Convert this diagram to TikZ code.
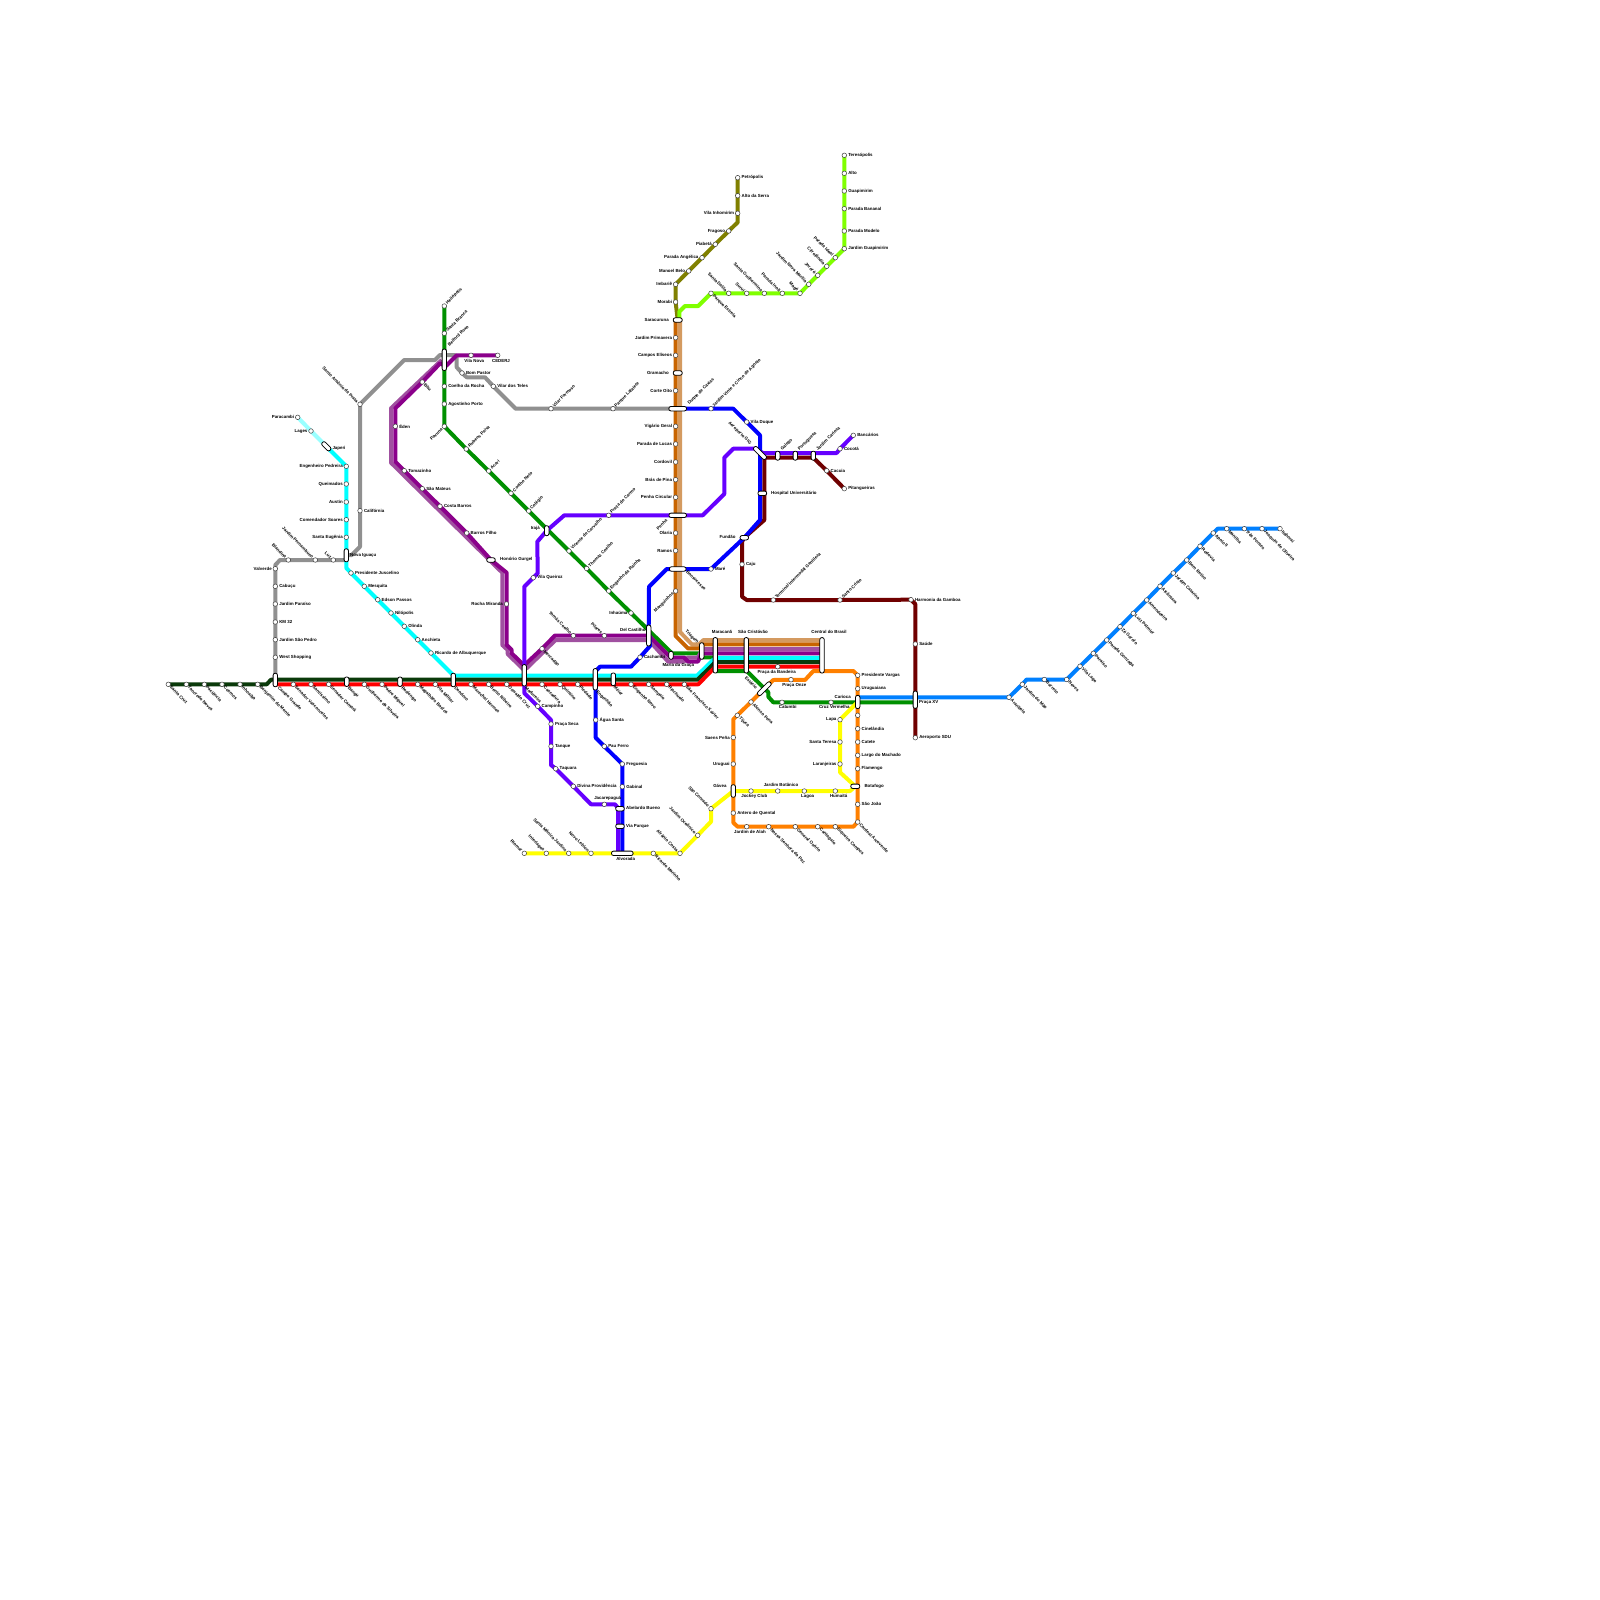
\documentclass[tikz,border=0pt]{standalone}
\usepackage{fontspec}
\setmainfont{Liberation Sans}
\definecolor{cPale}{HTML}{99FFFF}
\definecolor{cCyan}{HTML}{00FFFF}
\definecolor{cGray}{HTML}{909090}
\definecolor{cGreen}{HTML}{009000}
\definecolor{cDark}{HTML}{0A3A0A}
\definecolor{cRed}{HTML}{FF0000}
\definecolor{cBlue}{HTML}{0000FF}
\definecolor{cViolet}{HTML}{6600FF}
\definecolor{cMaroon}{HTML}{700000}
\definecolor{cOrange}{HTML}{FF8000}
\definecolor{cYellow}{HTML}{FFFF00}
\definecolor{cLime}{HTML}{80FF00}
\definecolor{cOlive}{HTML}{808000}
\definecolor{cSky}{HTML}{0080FF}
\definecolor{cPurple}{HTML}{8B008B}
\definecolor{cLilac}{HTML}{A050A0}
\definecolor{cBrown}{HTML}{C86400}
\definecolor{cTan}{HTML}{D49A60}
\tikzset{
  ln/.style={line width=4pt,line join=round},
  stn/.style={circle,draw=black!75,fill=white,line width=.5pt,minimum size=4.6pt,inner sep=0pt},
  capsule/.style={rectangle,rounded corners=2pt,draw=black,fill=white,line width=.8pt,minimum height=4.4pt,inner sep=0pt},
  lab/.style={font=\fontsize{4.4}{5}\selectfont\bfseries,inner sep=0pt,text=black},
  kR/.style={anchor=west,xshift=3.8pt},
  kL/.style={anchor=east,xshift=-3.4pt},
  kA/.style={anchor=south,yshift=3.4pt},
  kB/.style={anchor=north,yshift=-3.4pt},
  kUR/.style={rotate=45,anchor=west,xshift=3.2pt},
  kDR/.style={rotate=-45,anchor=west,xshift=3.2pt},
  kUL/.style={rotate=-45,anchor=east,xshift=-3.2pt},
  kDL/.style={rotate=45,anchor=east,xshift=-3.2pt},
  cR/.style={anchor=west},
  cL/.style={anchor=east},
  cC/.style={anchor=center},
  cUR/.style={rotate=45,anchor=west},
  cDR/.style={rotate=-45,anchor=west},
  cUL/.style={rotate=-45,anchor=east},
  cDL/.style={rotate=45,anchor=east},
}
\newcommand{\CoordS}[5]{\coordinate (#1) at (#2,#3);}
\newcommand{\DrawS}[5]{\node[stn] (n#1) at (#1) {}; \node[lab,#4] (t#1) at (#1) {#5};}
\newcommand{\CoordC}[9]{\coordinate (#1) at (#2,#3);}
\newcommand{\DrawC}[9]{\node[capsule,minimum width=#4pt,rotate=#5] (n#1) at (#1) {}; \node[lab,#6] (t#1) at (#7,#8) {#9};}
\newcommand{\Stations}{%
% pale / cyan
\StnX{paracambi}{297.7}{417.3}{kL}{Paracambi}
\StnX{lages}{311}{431}{kL}{Lages}
\StnX{engped}{346.3}{466.3}{kL}{Engenheiro Pedreira}
\StnX{queimados}{346.3}{484}{kL}{Queimados}
\StnX{austin}{346.3}{502}{kL}{Austin}
\StnX{comendador}{346.3}{519.7}{kL}{Comendador Soares}
\StnX{eugenia}{346.3}{537.3}{kL}{Santa Eugênia}
\StnX{juscelino}{351}{573}{kR}{Presidente Juscelino}
\StnX{mesquita}{364.3}{586.3}{kR}{Mesquita}
\StnX{edson}{377.7}{599.7}{kR}{Edson Passos}
\StnX{nilopolis}{391}{613}{kR}{Nilópolis}
\StnX{olinda}{404.3}{626.3}{kR}{Olinda}
\StnX{anchieta}{417.7}{639.7}{kR}{Anchieta}
\StnX{ricardo}{431}{653}{kR}{Ricardo de Albuquerque}
% gray
\StnX{santoantonio}{360}{404.3}{kUL}{Santo Antônio da Prata}
\StnX{california}{360}{510.7}{kR}{Califórnia}
\StnX{luz}{333.3}{560}{kUL}{Luz}
\StnX{jardpern}{315.3}{560}{kUL}{Jardim Pernambuco}
\StnX{blandina}{288.3}{560}{kUL}{Blandina}
\StnX{valverde}{275.3}{568.7}{kL}{Valverde}
\StnX{cabucu}{275.3}{586.3}{kR}{Cabuçu}
\StnX{paraiso}{275.3}{604}{kR}{Jardim Paraíso}
\StnX{km}{275.3}{622}{kR}{KM 32}
\StnX{saopedro}{275.3}{639.7}{kR}{Jardim São Pedro}
\StnX{west}{275.3}{657.3}{kR}{West Shopping}
\StnX{bompastor}{462}{373}{kR}{Bom Pastor}
\StnX{vilarteles}{493.3}{386.3}{kR}{Vilar dos Teles}
\StnX{vilarformoso}{551}{408.7}{kUR}{Vilar Formoso}
\StnX{lafaiete}{613}{408.7}{kUR}{Parque Lafaiete}
% dark green
\StnX{santacruz}{168.3}{684.3}{kDR}{Santa Cruz}
\StnX{tancredo}{186.3}{684.3}{kDR}{Tancredo Neves}
\StnX{paciencia}{204.3}{684.3}{kDR}{Paciência}
\StnX{cosmos}{222}{684.3}{kDR}{Cosmos}
\StnX{inhoaiba}{240}{684.3}{kDR}{Inhoaíba}
\StnX{benjamim}{257.7}{684.3}{kDR}{Benjamim do Monte}
% red
\StnX{senvasc}{293.3}{684.3}{kDR}{Senador Vasconcelos}
\StnX{santissimo}{311}{684.3}{kDR}{Santíssimo}
\StnX{camara}{328.7}{684.3}{kDR}{Senador Camará}
\StnX{guilherme}{364.3}{684.3}{kDR}{Guilherme da Silveira}
\StnX{padre}{382}{684.3}{kDR}{Padre Miguel}
\StnX{magalhaes}{417.7}{684.3}{kDR}{Magalhães Bastos}
\StnX{vmilitar}{435.3}{684.3}{kDR}{Vila Militar}
\StnX{marechal}{471}{684.3}{kDR}{Marechal Hermes}
\StnX{bento}{488.7}{684.3}{kDR}{Bento Ribeiro}
\StnX{oswaldo}{506.7}{684.3}{kDR}{Oswaldo Cruz}
\StnX{cascadura}{542}{684.3}{kDR}{Cascadura}
\StnX{quintino}{560}{684.3}{kDR}{Quintino}
\StnX{piedade}{577.7}{684.3}{kDR}{Piedade}
\StnX{engnovo}{631}{684.3}{kDR}{Engenho Novo}
\StnX{sampaio}{648.7}{684.3}{kDR}{Sampaio}
\StnX{riachuelo}{666.7}{684.3}{kDR}{Riachuelo}
\StnX{sfx}{684.3}{684.3}{kDR}{São Francisco Xavier}
\StnX{bandeira}{777.7}{666.7}{kB}{}
% green
\StnX{helio}{444.3}{306}{kUR}{Heliópolis}
\StnX{sbranca}{444.3}{333.3}{kUR}{Santa Branca}
\StnX{coelhorocha}{444.3}{386.3}{kR}{Coelho da Rocha}
\StnX{agostinho}{444.3}{404}{kR}{Agostinho Porto}
\StnX{pavuna}{444.3}{426.3}{kDL}{Pavuna}
\StnX{rubens}{466.3}{449}{kUR}{Rubens Paiva}
\StnX{acari}{488.7}{471}{kUR}{Acari}
\StnX{coelhoneto}{511}{493.3}{kUR}{Coelho Neto}
\StnX{colegio}{528.7}{511}{kUR}{Colégio}
\StnX{vicente}{569}{551}{kUR}{Vicente de Carvalho}
\StnX{thomaz}{586.7}{568.5}{kUR}{Thomaz Coelho}
\StnX{rainha}{608.7}{591}{kUR}{Engenho da Rainha}
\StnX{inhauma}{631}{613}{kL}{Inhaúma}
\StnX{catumbi}{782}{702.3}{kB}{}
\StnX{cruzv}{831}{702.3}{kB}{}
% purple
\StnX{vilanova}{471}{355.3}{kB}{}
\StnX{cederj}{497.7}{355.3}{kB}{}
\StnX{bitu}{422.3}{382}{kDR}{Bitu}
\StnX{eden}{395.3}{426.3}{kR}{Éden}
\StnX{tomazinho}{404.3}{470.7}{kR}{Tomazinho}
\StnX{saomateus}{422.3}{488.7}{kR}{São Mateus}
\StnX{costabarros}{440}{506.3}{kR}{Costa Barros}
\StnX{barrosfilho}{466.7}{533}{kR}{Barros Filho}
\StnX{rochamiranda}{506.5}{604}{kL}{Rocha Miranda}
\StnX{mercadao}{542}{648.7}{kDR}{Mercadão}
\StnX{tomas}{573.3}{635.7}{kUL}{Tomás Coelho}
\StnX{pilares}{604.3}{635.7}{kUL}{Pilares}
% orange-brown
\StnX{primavera}{675.6}{337.7}{kL}{Jardim Primavera}
\StnX{elisios}{675.6}{355.3}{kL}{Campos Elíseos}
\StnX{corte}{675.6}{390.7}{kL}{Corte Oito}
\StnX{vigario}{675.6}{426.3}{kL}{Vigário Geral}
\StnX{lucas}{675.6}{444}{kL}{Parada de Lucas}
\StnX{cordovil}{675.6}{462}{kL}{Cordovil}
\StnX{bras}{675.6}{479.7}{kL}{Brás de Pina}
\StnX{penhac}{675.6}{497.3}{kL}{Penha Circular}
\StnX{olaria}{675.6}{533}{kL}{Olaria}
\StnX{ramos}{675.6}{550.7}{kL}{Ramos}
\StnX{manguinhos}{675.6}{591}{kDL}{Manguinhos}
% olive
\StnX{petropolis}{737.7}{177.7}{kR}{Petrópolis}
\StnX{altoserra}{737.7}{195.7}{kR}{Alto da Serra}
\StnX{inhomirim}{737.7}{213.3}{kL}{Vila Inhomirim}
\StnX{fragoso}{728.7}{231}{kL}{Fragoso}
\StnX{piabeta}{715.3}{244.3}{kL}{Piabetá}
\StnX{angelica}{702}{257.7}{kL}{Parada Angélica}
\StnX{manoel}{688.7}{271}{kL}{Manoel Belo}
\StnX{imbarie}{675.6}{284.3}{kL}{Imbariê}
\StnX{morabi}{675.6}{302}{kL}{Morabi}
% lime
\StnX{teresopolis}{844.3}{155.3}{kR}{Teresópolis}
\StnX{alto}{844.3}{173.3}{kR}{Alto}
\StnX{guapi}{844.3}{191}{kR}{Guapimirim}
\StnX{bananal}{844.3}{208.7}{kR}{Parada Bananal}
\StnX{modelo}{844.3}{231}{kR}{Parada Modelo}
\StnX{jguapi}{844.3}{248.7}{kR}{Jardim Guapimirim}
\StnX{ideal}{835.3}{257.7}{kUL}{Parada Ideal}
\StnX{citro}{826.7}{266.3}{kUL}{Citrolândia}
\StnX{jororo}{817.7}{275.3}{kUL}{Jororó}
\StnX{marilia}{808.7}{284.3}{kUL}{Jardim Nova Marília}
\StnX{mage}{800}{293.3}{kUL}{Magé}
\StnX{inoa}{782.3}{293.3}{kUL}{Parada Inoã}
\StnX{guilhermina}{764.3}{293.3}{kUL}{Santa Guilhermina}
\StnX{surui}{746.7}{293.3}{kUL}{Suruí}
\StnX{dalila}{728.7}{293.3}{kUL}{Santa Dalila}
\StnX{estrela}{711}{293.3}{kDR}{Parque Estrela}
% blue
\StnX{vintecinco}{711}{408.7}{kUR}{Jardim Vinte e Cinco de Agosto}
\StnX{vduque}{746.7}{422}{kR}{Vila Duque}
\StnX{mare}{711}{569}{kR}{Maré}
\StnX{cachambi}{640}{657.3}{kR}{Cachambi}
\StnX{aguasanta}{595.7}{720}{kR}{Água Santa}
\StnX{pauferro}{604.3}{746.3}{kR}{Pau Ferro}
\StnX{freguesia}{622.3}{764}{kR}{Freguesia}
\StnX{gabinal}{622.3}{786.7}{kR}{Gabinal}
% violet
\StnX{bancarios}{853.3}{435.3}{kR}{Bancários}
\StnX{cocota}{840}{448.7}{kR}{Cocotá}
\StnX{carmo}{608.7}{515.3}{kUR}{Praça do Carmo}
\StnX{vqueiroz}{533.3}{577.7}{kR}{Vila Queiroz}
\StnX{campinho}{537.7}{706.3}{kR}{Campinho}
\StnX{pracaseca}{551}{724}{kR}{Praça Seca}
\StnX{tanque}{551}{746.3}{kR}{Tanque}
\StnX{taquara}{555.7}{768.7}{kR}{Taquara}
\StnX{divina}{573.3}{786.3}{kR}{Divina Providência}
\StnX{jacarepagua}{604.3}{804.3}{kB}{}
% maroon
\StnX{pitangueiras}{844.3}{488.7}{kR}{Pitangueiras}
\StnX{cacuia}{826.7}{470.7}{kR}{Cacuia}
\StnX{caju}{742}{564.3}{kR}{Caju}
\StnX{gentileza}{773.3}{600}{kUR}{Terminal Intermodal Gentileza}
\StnX{santocristo}{840}{600}{kUR}{Santo Cristo}
\StnX{gamboa}{911}{599.7}{kR}{Harmonia da Gamboa}
\StnX{saude}{915.3}{644}{kR}{Saúde}
\StnX{sdu}{915.3}{737.7}{kR}{Aeroporto SDU}
% orange
\StnX{pvargas}{857.7}{675.3}{kR}{Presidente Vargas}
\StnX{uruguaiana}{857.7}{688.7}{kR}{Uruguaiana}
\StnX{semnome}{857.7}{715.3}{kR}{}
\StnX{cinelandia}{857.7}{728.7}{kR}{Cinelândia}
\StnX{catete}{857.7}{742}{kR}{Catete}
\StnX{largo}{857.7}{755.3}{kR}{Largo do Machado}
\StnX{flamengo}{857.7}{768.7}{kR}{Flamengo}
\StnX{saojoao}{857.7}{804.3}{kR}{São João}
\StnX{cardeal}{857.7}{822}{kDR}{Cardeal Arcoverde}
\StnX{siqueira}{835.3}{826.7}{kDR}{Siqueira Campos}
\StnX{cantagalo}{817.7}{826.7}{kDR}{Cantagalo}
\StnX{osorio}{795.3}{826.7}{kDR}{General Osório}
\StnX{paz}{768.7}{826.7}{kDR}{Nossa Senhora da Paz}
\StnX{alah}{746.7}{826.7}{kB}{}
\StnX{antero}{733.3}{813}{kR}{Antero de Quental}
\StnX{uruguai}{733.3}{764}{kL}{Uruguai}
\StnX{saens}{733.3}{737.5}{kL}{Saens Peña}
\StnX{tijuca}{737.3}{715.3}{kDR}{Tijuca}
\StnX{afonso}{751}{702}{kDR}{Afonso Pena}
\StnX{onze}{791}{679.7}{kB}{}
% yellow
\StnX{riomar}{524.3}{853.3}{kUL}{Riomar}
\StnX{interlagos}{546.3}{853.3}{kUL}{Interlagos}
\StnX{smonica}{568.7}{853.3}{kUL}{Santa Mônica Jardins}
\StnX{leblon}{591}{853.3}{kUL}{Novo Leblon}
\StnX{rmarinho}{653.3}{853.3}{kDR}{Ricardo Marinho}
\StnX{afranio}{680}{853.3}{kUL}{Afrânio Costa}
\StnX{oceanico}{697.7}{835.3}{kUL}{Jardim Oceânico}
\StnX{conrado}{711}{808.7}{kUL}{São Conrado}
\StnX{jockey}{751}{791}{kB}{}
\StnX{botanico}{777.7}{791}{kA}{}
\StnX{lagoa}{804.3}{791}{kB}{}
\StnX{humaita}{835.3}{791}{kB}{}
\StnX{laranjeiras}{840}{764}{kL}{Laranjeiras}
\StnX{steresa}{840}{742}{kL}{Santa Teresa}
\StnX{lapa}{840}{719.7}{kL}{Lapa}
% sky
\StnX{arariboia}{1009}{697.3}{kDR}{Arariboia}
\StnX{jmae}{1022.3}{684.3}{kDR}{Jardim do Mãe}
\StnX{barreto}{1044.3}{679.5}{kDR}{Barreto}
\StnX{neves}{1066.7}{679.5}{kDR}{Neves}
\StnX{vlage}{1080}{666.3}{kDR}{Vila Lage}
\StnX{sparaiso}{1093.3}{653.3}{kDR}{Paraíso}
\StnX{gonzaga}{1106.7}{640}{kDR}{Parada Gonzaga}
\StnX{garoto}{1120}{626.7}{kDR}{Zé Garoto}
\StnX{palmier}{1133.3}{613.3}{kDR}{Luiz Palmier}
\StnX{amendoeira}{1146.7}{600}{kDR}{Amendoeira}
\StnX{alcantara}{1160}{586.3}{kDR}{Alcântara}
\StnX{catarina}{1173.3}{573}{kDR}{Jardim Catarina}
\StnX{bomretiro}{1186.7}{560}{kDR}{Bom Retiro}
\StnX{rodovia}{1200}{546.3}{kDR}{Rodovia}
\StnX{apolo}{1213.3}{533}{kDR}{Apolo II}
\StnX{manilha}{1226.7}{528.7}{kDR}{Manilha}
\StnX{trespontes}{1244.3}{528.7}{kDR}{Três Pontes}
\StnX{joaquim}{1262}{528.7}{kDR}{Joaquim de Oliveira}
\StnX{itaborai}{1280}{528.7}{kDR}{Itaboraí}
}
\newcommand{\Capsules}{%
\CapX{japeri}{326.3}{446.3}{11}{-45}{cR}{332.3}{448.3}{Japeri}
\CapX{novaiguacu}{346.3}{555.3}{13}{90}{cR}{350}{555}{Nova Iguaçu}
\CapX{honorio}{491}{560}{8.5}{0}{cR}{500}{559.3}{Honório Gurgel}
\CapX{belford}{444.3}{359.8}{21.5}{90}{cUR}{448.3}{345.7}{Belford Roxo}
\CapX{iraja}{546.7}{530.7}{10}{90}{cL}{540}{528.3}{Irajá}
\CapX{delcastilho}{648.7}{635.5}{21}{90}{cL}{645.7}{630}{Del Castilho}
\CapX{maria}{671}{655.3}{8}{90}{cC}{678.3}{665}{Maria da Graça}
\CapX{triagem}{701.7}{651}{16.5}{90}{cUL}{698}{643}{Triagem}
\CapX{maracana}{715.3}{655.3}{35.5}{90}{cC}{722}{631.7}{Maracanã}
\CapX{scristovao}{746.3}{655.3}{35.5}{90}{cC}{753}{631.7}{São Cristóvão}
\CapX{central}{822}{655.3}{35.5}{90}{cC}{829}{631.7}{Central do Brasil}
\CapX{campogrande}{275.3}{680}{13.5}{90}{cDR}{278.3}{687.3}{Campo Grande}
\CapX{bangu}{346.7}{681.7}{9.5}{90}{cDR}{348.3}{687.3}{Bangu}
\CapX{realengo}{400}{681.7}{9.5}{90}{cDR}{401.7}{687.3}{Realengo}
\CapX{deodoro}{453.3}{680}{13.5}{90}{cDR}{455}{687.3}{Deodoro}
\CapX{madureira}{524.3}{675.3}{21.5}{90}{cDR}{525.7}{687.3}{Madureira}
\CapX{engenhao}{595.3}{679.3}{21.5}{90}{cDR}{596.7}{691.3}{Engenhão}
\CapX{meier}{613.3}{679.3}{12.7}{90}{cDR}{614.3}{686.7}{Méier}
\CapX{saracuruna}{677.7}{320}{9}{0}{cL}{669}{320}{Saracuruna}
\CapX{gramacho}{677.7}{373}{9}{0}{cL}{669}{373}{Gramacho}
\CapX{duque}{677.7}{408.7}{17.7}{0}{cUR}{688.3}{404.3}{Duque de Caxias}
\CapX{penha}{677.7}{515.3}{17.5}{0}{cDL}{666.7}{520}{Penha}
\CapX{bonsucesso}{677.7}{569}{16.7}{0}{cDR}{686.7}{571}{Bonsucesso}
\CapX{gig}{760}{453}{16.5}{-45}{cUL}{750.7}{444}{Aeroporto GIG}
\CapX{galeao}{777.7}{455.7}{9}{90}{cUR}{781}{450}{Galeão}
\CapX{portuguesa}{795.3}{455.7}{9}{90}{cUR}{798.7}{450}{Portuguesa}
\CapX{jcarioca}{813.3}{455.7}{9}{90}{cUR}{816.7}{450}{Jardim Carioca}
\CapX{hospital}{762.3}{493.3}{8.7}{0}{cR}{771}{493}{Hospital Universitário}
\CapX{fundao}{744.3}{537.7}{8.5}{0}{cL}{735.7}{537.3}{Fundão}
\CapX{abelardo}{620}{808.7}{8.6}{0}{cR}{626}{808.3}{Abelardo Bueno}
\CapX{viaparque}{620}{826.3}{8.6}{0}{cR}{626}{826}{Via Parque}
\CapX{alvorada}{622.3}{853.3}{21.6}{0}{cC}{625.7}{858.8}{Alvorada}
\CapX{estacio}{764.3}{688.7}{17.5}{45}{cDR}{745.5}{677}{Estácio}
\CapX{gavea}{733.3}{791}{12.6}{90}{cL}{726.7}{786}{Gávea}
\CapX{botafogo}{855.3}{786.3}{9}{0}{cR}{864.3}{786.3}{Botafogo}
\CapX{carioca}{857.7}{702}{13.3}{90}{cC}{842.7}{697.3}{Carioca}
\CapX{pracaxv}{915.3}{699.7}{17.3}{90}{cR}{919}{702}{Praça XV}
}
\newcommand{\ExtraLabels}{%
\node[lab] (lvilanova) at (474.3,360.7) {Vila Nova};
\node[lab] (lcederj) at (501,360.7) {CEDERJ};
\node[lab] (lbandeira) at (776.7,671.9) {Praça da Bandeira};
\node[lab] (lonze) at (794.3,685) {Praça Onze};
\node[lab] (lcatumbi) at (787.7,707.3) {Catumbi};
\node[lab] (lcruzv) at (834.3,707.3) {Cruz Vermelha};
\node[lab] (ljacare) at (607.7,798.3) {Jacarepaguá};
\node[lab] (ljockey) at (754.3,796) {Jockey Club};
\node[lab] (lbotanico) at (781,785.3) {Jardim Botânico};
\node[lab] (llagoa) at (807.7,796) {Lagoa};
\node[lab] (lhumaita) at (838.7,796) {Humaitá};
\node[lab] (lalah) at (750,831.7) {Jardim de Alah};
}
\begin{document}
\begin{tikzpicture}[x=1pt,y=-1pt]
\useasboundingbox (0,0) rectangle (1600,1600);
\fill[white] (0,0) rectangle (1600,1600);
\let\StnX\CoordS \let\CapX\CoordC
\Stations \Capsules
% bend points
\coordinate (a1) at (346.3,568);
\coordinate (a2) at (453.7,675.7);
\coordinate (a3) at (697,675.7);
\coordinate (a4) at (715.3,657.8);
\coordinate (a5) at (822,657.8);
\coordinate (g1) at (275.3,565);
\coordinate (g2) at (280,560);
\coordinate (g0) at (346.3,560);
\coordinate (g3) at (351.7,555);
\coordinate (g4) at (360,546.7);
\coordinate (g5) at (404.3,360);
\coordinate (g6) at (435,360);
\coordinate (g7) at (440,355);
\coordinate (g8) at (455,355);
\coordinate (g9) at (456.7,358);
\coordinate (g10) at (456.7,367.3);
\coordinate (g11) at (466.7,377.3);
\coordinate (g12) at (485,377.3);
\coordinate (g13) at (515.7,408.7);
\coordinate (e1) at (672,653.3);
\coordinate (e2) at (701.7,653.3);
\coordinate (e3) at (701.7,657.3);
\coordinate (e4) at (712,657.3);
\coordinate (e5) at (716,661);
\coordinate (e6) at (716,671);
\coordinate (e7) at (746.3,671);
\coordinate (e8) at (748,672.3);
\coordinate (e9) at (768.3,692.3);
\coordinate (e10) at (768.3,696.7);
\coordinate (e11) at (773.3,702.3);
\coordinate (e12) at (857.7,702.3);
\coordinate (e13) at (915.3,702.3);
\coordinate (d1) at (266.7,684.3);
\coordinate (d2) at (271,679.7);
\coordinate (d3) at (697.5,679.7);
\coordinate (d4) at (715.3,662.2);
\coordinate (d5) at (822,662.2);
\coordinate (r0) at (275.3,684.3);
\coordinate (r1) at (698.3,684.3);
\coordinate (r2) at (715.3,666.7);
\coordinate (r3) at (822,666.7);
% light purple
\coordinate (l1) at (441.7,360);
\coordinate (l2) at (391,408.3);
\coordinate (l3) at (391,462.7);
\coordinate (l4) at (502.3,572.7);
\coordinate (l5) at (502.3,645);
\coordinate (l6) at (507.7,650);
\coordinate (l7) at (507.7,654);
\coordinate (l8) at (523.3,669.3);
\coordinate (l9) at (527,668);
\coordinate (l10) at (555.5,640);
\coordinate (l11) at (648.7,640);
\coordinate (l12) at (668,661.5);
\coordinate (l13) at (684,661.5);
\coordinate (l14) at (688,657.5);
\coordinate (l15) at (698,657.5);
\coordinate (l16) at (702.5,649);
\coordinate (l17) at (822,649);
% purple
\coordinate (p1) at (456.7,355.3);
\coordinate (p2) at (446,366);
\coordinate (p3) at (440,363.5);
\coordinate (p4) at (395.3,408.3);
\coordinate (p5) at (395.3,461.7);
\coordinate (p6) at (506.7,572.7);
\coordinate (p7) at (506.7,645);
\coordinate (p8) at (511.7,650);
\coordinate (p9) at (511.7,653.3);
\coordinate (p10) at (524,665.5);
\coordinate (p11) at (555,635.5);
\coordinate (p12) at (648.7,635.5);
\coordinate (p13) at (670.5,657.5);
\coordinate (p14) at (684,657.5);
\coordinate (p15) at (688,661.5);
\coordinate (p16) at (698,661.5);
\coordinate (p17) at (702,653.3);
\coordinate (p18) at (822,653.3);
% brown, tan
\coordinate (o0) at (675.6,318);
\coordinate (o1) at (675.6,636);
\coordinate (o2) at (688,648.4);
\coordinate (o3) at (699,648.4);
\coordinate (o4) at (704,644.4);
\coordinate (o5) at (822,644.4);
\coordinate (t0) at (680,318);
\coordinate (t1) at (680,632);
\coordinate (t2) at (692,644.4);
\coordinate (t3) at (699,644.4);
\coordinate (t4) at (703.5,640);
\coordinate (t5) at (822,640);
\coordinate (v1) at (737.7,222.3);
\coordinate (f1) at (698.3,306);
\coordinate (f2) at (685,306);
\coordinate (f3) at (679.3,311.7);
\coordinate (f4) at (679.3,318);
% blue
\coordinate (b1) at (733.3,408.7);
\coordinate (b2) at (760,435.3);
\coordinate (b3) at (760,520);
\coordinate (b4) at (666.7,569);
\coordinate (b5) at (649,586.7);
\coordinate (b6) at (648.7,630);
\coordinate (b7) at (650,646);
\coordinate (b8) at (631,666.7);
\coordinate (b9) at (600,666.7);
\coordinate (b10) at (595.7,671);
\coordinate (b11) at (595.7,737.7);
\coordinate (b12) at (622.3,853.3);
% violet
\coordinate (i1) at (836.7,453);
\coordinate (i2) at (763,453);
\coordinate (i3) at (755,448.7);
\coordinate (i4) at (733.3,448.7);
\coordinate (i5) at (724.3,457.7);
\coordinate (i6) at (724.3,494);
\coordinate (i7) at (702.7,515.3);
\coordinate (i8) at (564.3,515.3);
\coordinate (i9) at (537.3,541.7);
\coordinate (i10) at (537.7,573.3);
\coordinate (i11) at (524.3,586.7);
\coordinate (i12) at (524.3,693);
\coordinate (i13) at (551,720);
\coordinate (i14) at (551,765);
\coordinate (i15) at (591,804.3);
\coordinate (i16) at (615,804.3);
\coordinate (i17) at (618,808);
\coordinate (i18) at (618,853.3);
% maroon
\coordinate (m1) at (813.3,457.7);
\coordinate (m2) at (764.3,457.7);
\coordinate (m3) at (764.3,520);
\coordinate (m4) at (742,541.7);
\coordinate (m5) at (742,596.7);
\coordinate (m6) at (746.7,600);
\coordinate (m7) at (915.3,604);
% orange
\coordinate (n1) at (853.3,671);
\coordinate (n2) at (813.3,671);
\coordinate (n3) at (805,680);
\coordinate (n4) at (773.3,680);
\coordinate (n5) at (733.3,719.3);
\coordinate (n6) at (733.3,822.7);
\coordinate (n7) at (737.7,826.7);
\coordinate (n8) at (853.3,826.7);
% yellow
\coordinate (y1) at (711,821.7);
\coordinate (y2) at (850,791);
\coordinate (y3) at (840,772.3);
% sky
\coordinate (s1) at (857.7,697.3);
\coordinate (s2) at (915.3,697.3);
\coordinate (s3) at (1026.7,679.5);
\coordinate (s4) at (1217.7,528.7);
% LINES
\draw[ln,cPale] (paracambi) -- (lages) -- (japeri);
\draw[ln,cGray] (campogrande) -- (west) -- (saopedro) -- (km) -- (paraiso) -- (cabucu) -- (valverde) -- (g1) -- (g2) -- (blandina) -- (jardpern) -- (luz) -- (g0);
\draw[ln,cGray] (novaiguacu) -- (g3) -- (g4) -- (california) -- (santoantonio) -- (g5) -- (g6) -- (g7) -- (g8) -- (g9) -- (g10) -- (bompastor) -- (g11) -- (g12) -- (vilarteles) -- (g13) -- (vilarformoso) -- (lafaiete) -- (duque);
\draw[ln,cGreen] (helio) -- (sbranca) -- (belford) -- (coelhorocha) -- (agostinho) -- (pavuna) -- (rubens) -- (acari) -- (coelhoneto) -- (colegio) -- (vicente) -- (thomaz) -- (rainha) -- (inhauma) -- (e1) -- (e2);
\draw[ln,cGreen] (e3) -- (e4) -- (e5) -- (e6) -- (e7) -- (e8) -- (e9) -- (e10) -- (e11) -- (catumbi) -- (cruzv) -- (e12) -- (e13);
\draw[ln,cTan] (t0) -- (t1) -- (t2) -- (t3) -- (t4) -- (t5);
\draw[ln,cBrown] (o0) -- (o1) -- (o2) -- (o3) -- (o4) -- (o5);
\draw[ln,cLilac] (l1) -- (l2) -- (l3) -- (l4) -- (l5) -- (l6) -- (l7) -- (l8) -- (l9) -- (l10) -- (l11) -- (l12) -- (l13) -- (l14) -- (l15) -- (l16) -- (l17);
\draw[ln,cPurple] (cederj) -- (vilanova) -- (p1) -- (p2) -- (p3) -- (bitu) -- (p4) -- (eden) -- (p5) -- (tomazinho) -- (saomateus) -- (costabarros) -- (barrosfilho) -- (honorio) -- (p6) -- (rochamiranda) -- (p7) -- (p8) -- (p9) -- (p10) -- (mercadao) -- (p11) -- (tomas) -- (pilares) -- (p12) -- (p13) -- (p14) -- (p15) -- (p16) -- (p17) -- (p18);
\draw[ln,cCyan] (japeri) -- (engped) -- (queimados) -- (austin) -- (comendador) -- (eugenia) -- (a1) -- (juscelino) -- (mesquita) -- (edson) -- (nilopolis) -- (olinda) -- (anchieta) -- (ricardo) -- (a2) -- (a3) -- (a4) -- (a5);
\draw[ln,cDark] (santacruz) -- (tancredo) -- (paciencia) -- (cosmos) -- (inhoaiba) -- (benjamim) -- (d1) -- (d2) -- (d3) -- (d4) -- (d5);
\draw[ln,cRed] (r0) -- (senvasc) -- (santissimo) -- (camara) -- (guilherme) -- (padre) -- (magalhaes) -- (vmilitar) -- (marechal) -- (bento) -- (oswaldo) -- (cascadura) -- (quintino) -- (piedade) -- (engnovo) -- (sampaio) -- (riachuelo) -- (sfx) -- (r1) -- (r2) -- (bandeira) -- (r3);
\draw[ln,cOlive] (petropolis) -- (altoserra) -- (inhomirim) -- (v1) -- (fragoso) -- (piabeta) -- (angelica) -- (manoel) -- (imbarie) -- (morabi) -- (saracuruna);
\draw[ln,cLime] (teresopolis) -- (alto) -- (guapi) -- (bananal) -- (modelo) -- (jguapi) -- (ideal) -- (citro) -- (jororo) -- (marilia) -- (mage) -- (inoa) -- (guilhermina) -- (surui) -- (dalila) -- (estrela) -- (f1) -- (f2) -- (f3) -- (f4);
\draw[ln,cViolet] (bancarios) -- (cocota) -- (i1) -- (i2) -- (i3) -- (i4) -- (i5) -- (i6) -- (i7) -- (carmo) -- (i8) -- (iraja) -- (i9) -- (i10) -- (vqueiroz) -- (i11) -- (i12) -- (campinho) -- (i13) -- (pracaseca) -- (tanque) -- (i14) -- (taquara) -- (divina) -- (i15) -- (jacarepagua) -- (i16) -- (i17) -- (i18);
\draw[ln,cMaroon] (pitangueiras) -- (cacuia) -- (m1) -- (m2) -- (m3) -- (fundao) -- (m4) -- (caju) -- (m5) -- (m6) -- (gentileza) -- (santocristo) -- (gamboa) -- (m7) -- (saude) -- (pracaxv) -- (sdu);
\draw[ln,cBlue] (duque) -- (vintecinco) -- (b1) -- (vduque) -- (b2) -- (b3) -- (fundao) -- (mare) -- (bonsucesso) -- (b4) -- (b5) -- (b6) -- (b7) -- (cachambi) -- (b8) -- (b9) -- (b10) -- (aguasanta) -- (b11) -- (pauferro) -- (freguesia) -- (gabinal) -- (b12);
\draw[ln,cYellow] (riomar) -- (interlagos) -- (smonica) -- (leblon) -- (alvorada) -- (rmarinho) -- (afranio) -- (oceanico) -- (y1) -- (conrado) -- (gavea) -- (jockey) -- (botanico) -- (lagoa) -- (humaita) -- (y2) -- (botafogo) -- (y3) -- (laranjeiras) -- (steresa) -- (lapa) -- (carioca);
\draw[ln,cOrange] (pvargas) -- (n1) -- (n2) -- (n3) -- (onze) -- (n4) -- (estacio) -- (afonso) -- (tijuca) -- (n5) -- (saens) -- (uruguai) -- (gavea) -- (antero) -- (n6) -- (n7) -- (alah) -- (paz) -- (osorio) -- (cantagalo) -- (siqueira) -- (n8) -- (cardeal) -- (saojoao) -- (flamengo) -- (largo) -- (catete) -- (cinelandia) -- (semnome) -- (uruguaiana) -- (pvargas);
\draw[ln,cSky] (s1) -- (s2) -- (arariboia) -- (jmae) -- (s3) -- (barreto) -- (neves) -- (vlage) -- (sparaiso) -- (gonzaga) -- (garoto) -- (palmier) -- (amendoeira) -- (alcantara) -- (catarina) -- (bomretiro) -- (rodovia) -- (apolo) -- (s4) -- (manilha) -- (trespontes) -- (joaquim) -- (itaborai);
% STATIONS
\let\StnX\DrawS \let\CapX\DrawC
\Stations \Capsules
\ExtraLabels
\end{tikzpicture}
\end{document}
